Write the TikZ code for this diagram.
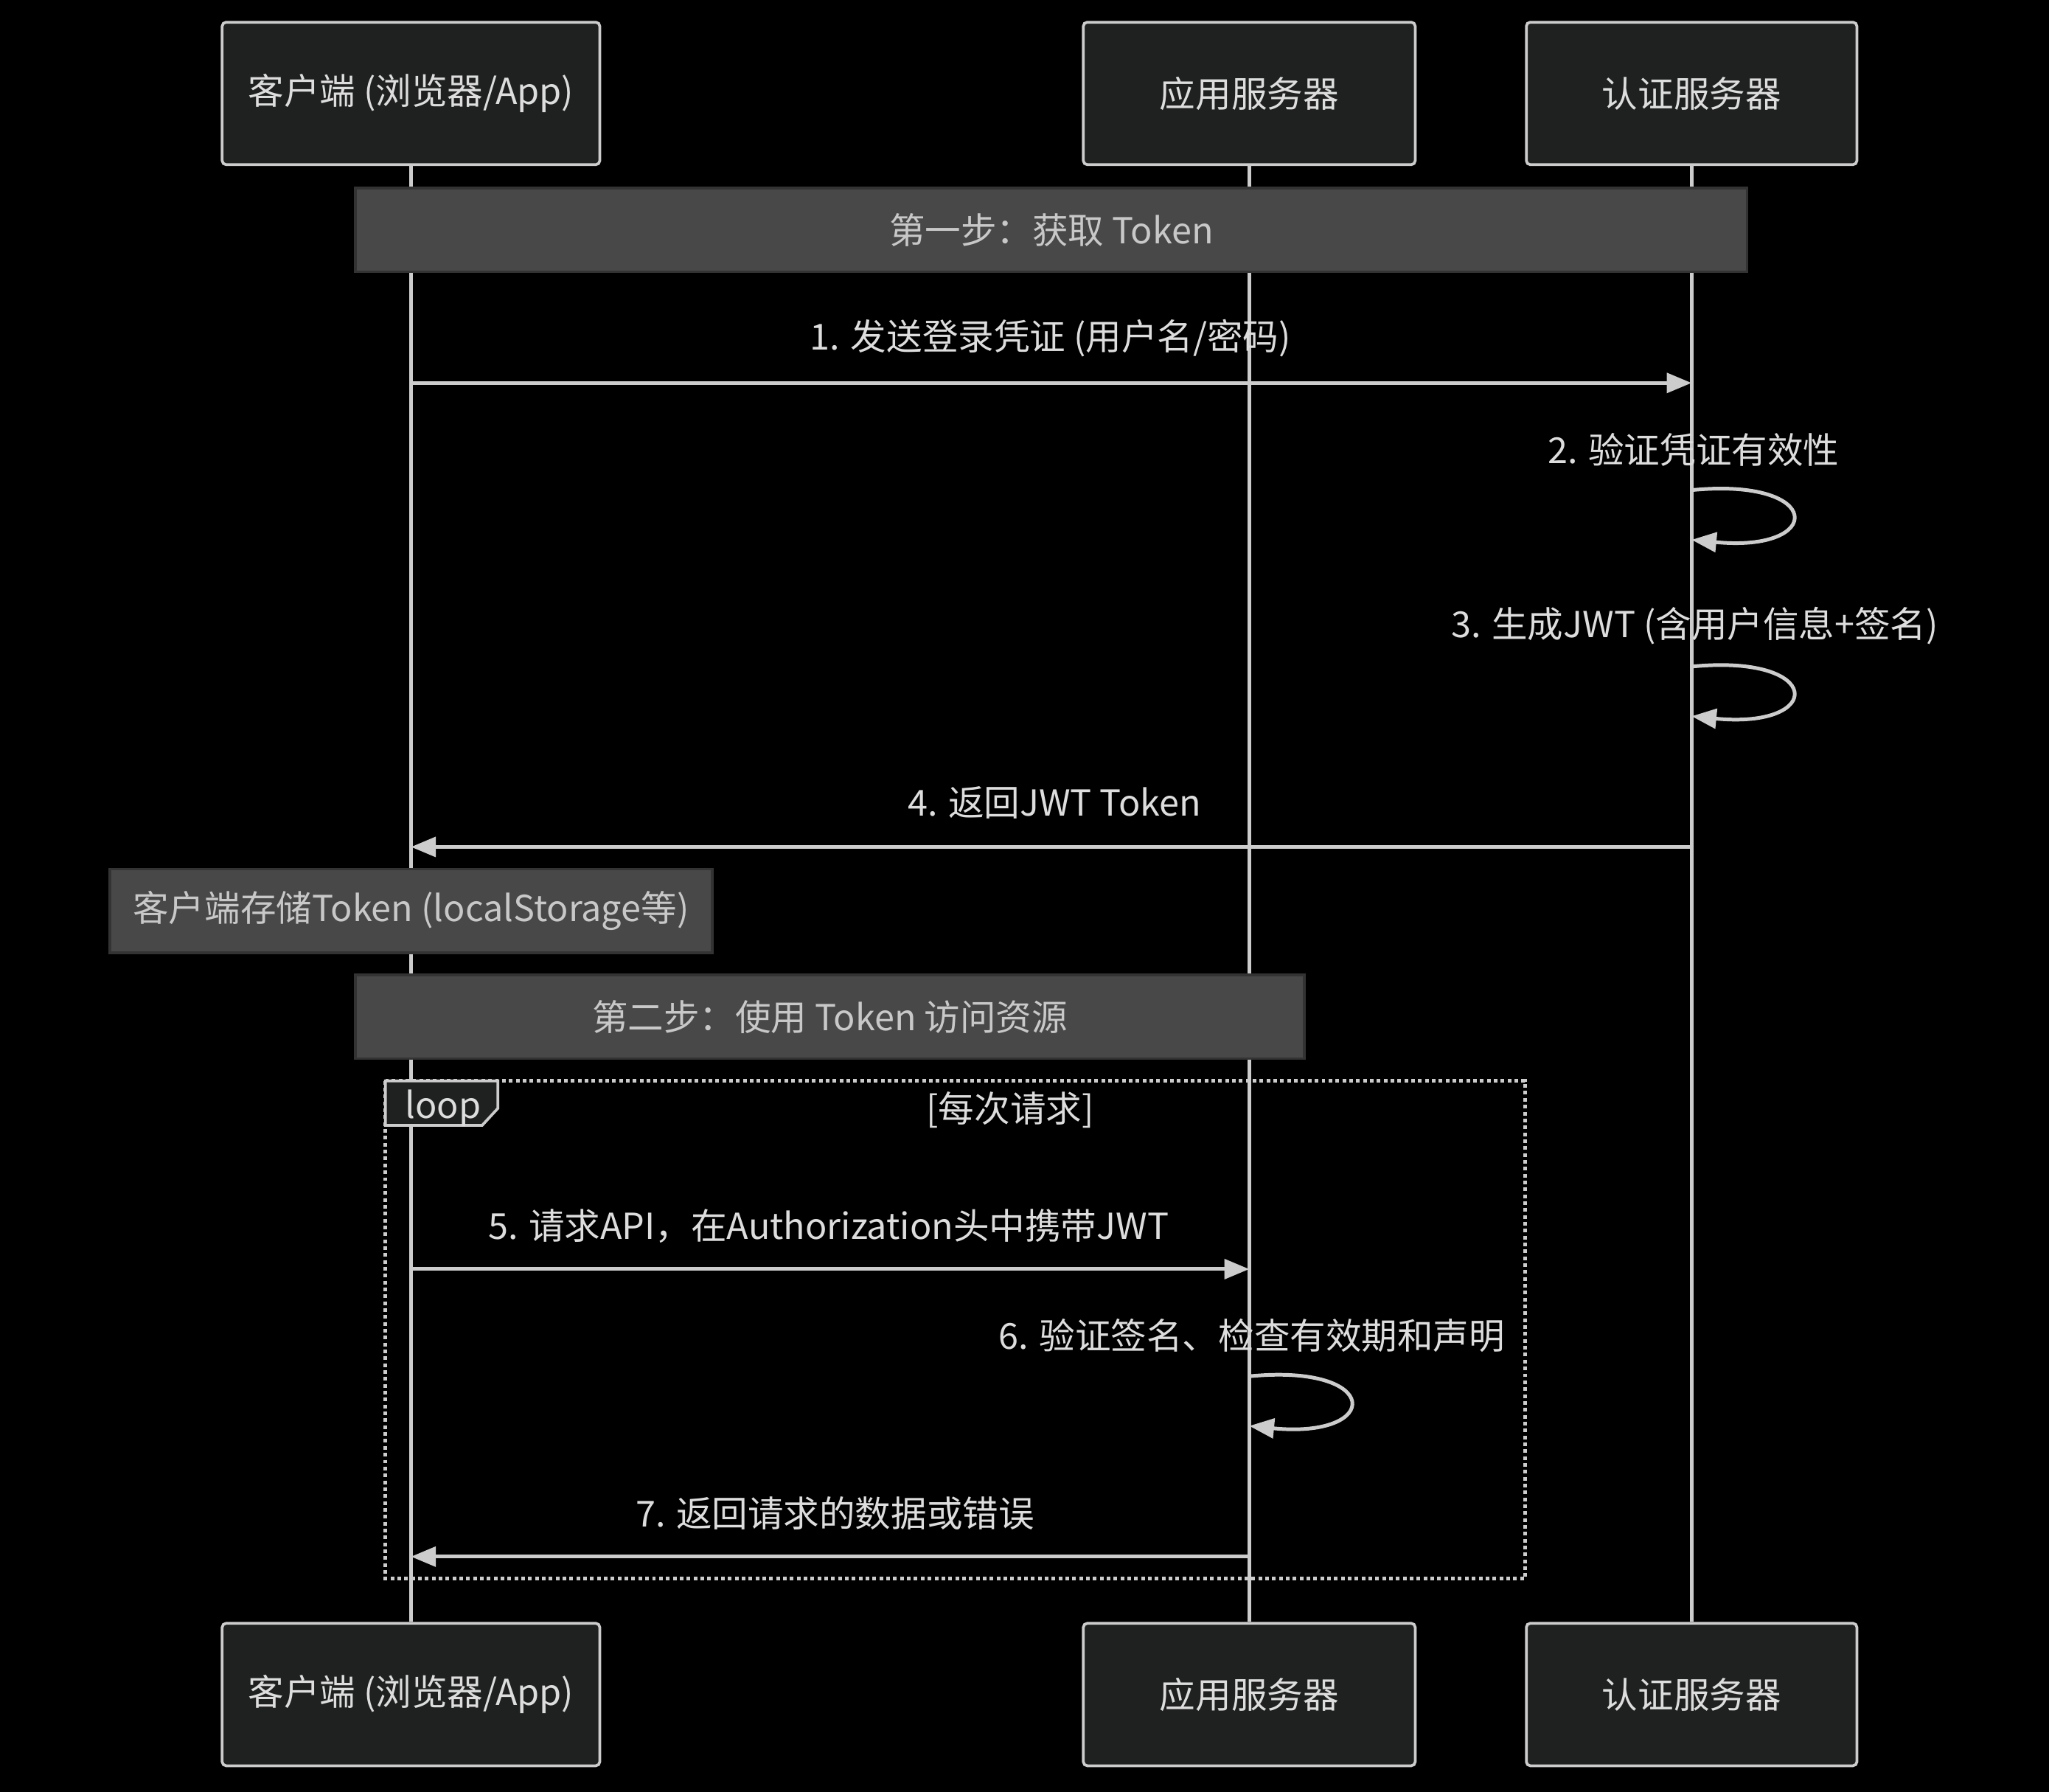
\documentclass[tikz,border=0pt]{standalone}
\usepackage{fontspec}
\setmainfont{Noto Sans CJK SC}
\usetikzlibrary{arrows.meta, calc}
\definecolor{actorfill}{HTML}{1F2020}
\definecolor{linegray}{HTML}{CCCCCC}
\definecolor{txtgray}{HTML}{DDDDDD}
\definecolor{notefill}{HTML}{484848}
\definecolor{noteedge}{HTML}{333333}
\definecolor{notetxt}{HTML}{C8C8C8}

\begin{document}
\begin{tikzpicture}[x=0.02cm, y=-0.02cm, >=Latex, font=\fontsize{15.6}{18}\selectfont,
	actor/.style={draw=linegray, fill=actorfill, line width=1.2pt, rounded corners=0.06cm,
		text=txtgray, minimum height=2.18cm, inner sep=0pt},
	lifeline/.style={draw=linegray, line width=1.5pt},
	notebox/.style={draw=noteedge, fill=notefill, line width=1.2pt, text=notetxt,
		minimum height=1.28cm, inner sep=0pt},
	msg/.style={draw=linegray, line width=1.6pt, -{Triangle[length=0.38cm,width=0.3cm]}},
	msgtxt/.style={text=txtgray, inner sep=0pt}]
	
	% background and size
	\fill[black] (0,0) rectangle (1568,1371);
	
	% ===== Actors (top and bottom) =====
	\node[actor, minimum width=5.78cm] (cliT) at (314.5,71.5) {客户端 (浏览器/App)};
	\node[actor, minimum width=5.08cm] (appT) at (956,71.5) {应用服务器};
	\node[actor, minimum width=5.06cm] (authT) at (1294.5,71.5) {认证服务器};
	\node[actor, minimum width=5.78cm] (cliB) at (314.5,1296.5) {客户端 (浏览器/App)};
	\node[actor, minimum width=5.08cm] (appB) at (956,1296.5) {应用服务器};
	\node[actor, minimum width=5.06cm] (authB) at (1294.5,1296.5) {认证服务器};
	
	% lifelines
	\draw[lifeline] (cliT.south) -- (cliB.north);
	\draw[lifeline] (appT.south) -- (appB.north);
	\draw[lifeline] (authT.south) -- (authB.north);
	
	% ===== Notes =====
	\node[notebox, minimum width=21.3cm] (note1) at (804.5,176) {第一步：获取 Token};
	\node[notebox, minimum width=9.22cm] (note2) at (314.5,697) {客户端存储Token (localStorage等)};
	\node[notebox, minimum width=14.52cm] (note3) at (635,778) {第二步：使用 Token 访问资源};
	
	% ===== Loop frame =====
	\draw[linegray, line width=1.6pt, dash pattern=on 1.6pt off 1.4pt] (295,827) rectangle (1167,1208);
	\draw[linegray, fill=actorfill, line width=1.2pt] (295,827) -- (381,827) -- (381,848) -- (369,861) -- (295,861) -- cycle;
	\node[msgtxt] (looplbl) at (339,848) {loop};
	\node[msgtxt] (loopcond) at (773,849) {[每次请求]};
	
	% ===== Step one: messages =====
	\node[msgtxt] (t1) at (804,259) {1. 发送登录凭证 (用户名/密码)};
	\draw[msg] (cliT |- 0,293) coordinate (m1s) -- (authT |- 0,293) coordinate (m1e);
	
	\node[msgtxt] (t2) at (1296,344) {2. 验证凭证有效性};
	\draw[msg] (authT |- 0,375) coordinate (m2s) .. controls ++(102,-10) and ++(102,10) .. (authT |- 0,413) coordinate (m2e);
	
	\node[msgtxt] (t3) at (1297,479) {3. 生成JWT (含用户信息+签名)};
	\draw[msg] (authT |- 0,510) coordinate (m3s) .. controls ++(102,-10) and ++(102,10) .. (authT |- 0,548) coordinate (m3e);
	
	\node[msgtxt] (t4) at (807,614) {4. 返回JWT Token};
	\draw[msg] (authT |- 0,648) coordinate (m4s) -- (cliT |- 0,648) coordinate (m4e);
	
	% ===== Step two: loop messages =====
	\node[msgtxt] (t5) at (634,938) {5. 请求API，在Authorization头中携带JWT};
	\draw[msg] (cliT |- 0,971) coordinate (m5s) -- (appT |- 0,971) coordinate (m5e);
	
	\node[msgtxt] (t6) at (958,1022) {6. 验证签名、检查有效期和声明};
	\draw[msg] (appT |- 0,1053) coordinate (m6s) .. controls ++(102,-10) and ++(102,10) .. (appT |- 0,1091) coordinate (m6e);
	
	\node[msgtxt] (t7) at (639,1158) {7. 返回请求的数据或错误};
	\draw[msg] (appT |- 0,1191) coordinate (m7s) -- (cliT |- 0,1191) coordinate (m7e);
	
\end{tikzpicture}
\end{document}
